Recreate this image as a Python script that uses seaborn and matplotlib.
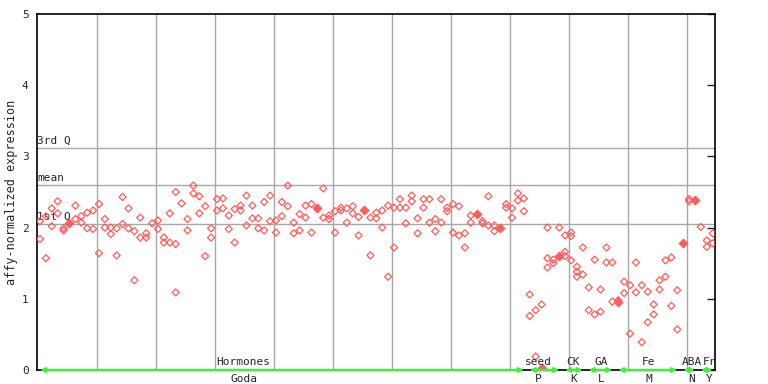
import numpy as np
import pandas as pd
import matplotlib
matplotlib.use("Agg")
import matplotlib.pyplot as plt
import seaborn as sns

# replicate values per sample, grouped by experiment
hormones = [
    [2.09, 1.84], [1.57, 2.16], [2.27, 2.02], [2.37, 2.20], [1.99, 1.96],
    [], [2.31, 2.12], [2.16, 2.07], [2.21, 1.99], [2.24, 1.98],
    [2.33, 1.64], [2.12, 2.00], [2.00, 1.91], [1.99, 1.61], [2.43, 2.05],
    [2.27, 1.99], [1.95, 1.26], [2.14, 1.86], [1.92, 1.86], [2.06],
    [2.10, 1.98], [1.86, 1.79], [2.20, 1.79], [2.50, 1.77, 1.09], [2.34],
    [2.12, 1.96], [2.59, 2.48], [2.44, 2.20], [2.30, 1.60], [1.99, 1.86],
    [2.40, 2.24], [2.41, 2.27], [2.17, 1.98], [2.26, 1.79], [2.31, 2.24],
    [2.45, 2.03], [2.31, 2.13], [2.13, 1.99], [2.36, 1.96], [2.45, 2.09],
    [2.10, 1.93], [2.36, 2.16], [2.59, 2.30], [2.07, 1.92], [2.19, 1.96],
    [2.31, 2.14], [2.33, 1.93], [], [2.55, 2.14], [2.17, 2.12],
    [2.23, 1.93], [2.28, 2.24], [2.27, 2.07], [2.30, 2.20], [2.15, 1.89],
    [], [2.14, 1.61], [2.21, 2.13], [2.24, 2.00], [2.31, 1.31],
    [2.28, 1.72], [2.40, 2.28], [2.28, 2.06], [2.45, 2.37], [2.13, 1.92],
    [2.40, 2.28], [2.40, 2.07], [2.12, 1.95], [2.40, 2.07], [2.28, 2.23],
    [2.33, 1.93], [2.30, 1.89], [1.92, 1.72], [2.17, 2.07], [],
    [2.09, 2.06], [2.44, 2.03], [2.03, 1.95], [], [2.33, 2.28],
    [2.14, 2.27], [2.48, 2.38], [2.41, 2.23],
]
seed = [[1.06, 0.76], [0.84, 0.19], [0.92], [2.00, 1.57, 1.44], [1.55, 1.50], [2.00]]
ck = [[1.89, 1.66, 1.60], [1.93, 1.88, 1.54], [1.45, 1.38, 1.31], [1.72, 1.34]]
ga = [[1.16, 0.84], [1.55, 0.78], [1.13, 0.82], [1.72, 1.51], [1.51, 0.96]]
fe = [[0.98], [1.24, 1.08], [1.19, 0.51], [1.51, 1.09], [1.19, 0.39], [1.10, 0.67],
      [0.92, 0.78], [1.26, 1.13], [1.54, 1.31], [1.58, 0.90], [1.12, 0.57]]
aba = [[], [2.40, 2.37], []]
fr = [[2.01], [1.82, 1.73], [1.92, 1.78]]

# samples drawn as filled markers
filled_idx = [5, 47, 55, 74, 78, 85, 88, 98, 109, 111]
filled_val = [2.07, 2.27, 2.25, 2.19, 1.99, 0.03, 1.60, 0.96, 1.78, 2.39]

group_names = ["Hormones", "seed", "CK", "GA", "Fe", "ABA", "Fr"]
group_codes = ["Goda", "P", "K", "L", "M", "N", "Y"]
group_label_x = [34.5, 84.4, 90.4, 95.2, 103.2, 110.5, 113.5]

q1, mean, q3 = 2.05, 2.60, 3.12

groups = [hormones, seed, ck, ga, fe, aba, fr]
rows = []
i = 0
spans = []
for g in groups:
    start = i
    for reps in g:
        for v in reps:
            rows.append((i, v))
        i += 1
    spans.append((start, i - 1))
df = pd.DataFrame(rows, columns=["sample", "expr"])
df_f = pd.DataFrame({"sample": filled_idx, "expr": filled_val})

sns.set_style("white")
plt.rcParams["font.family"] = ["DejaVu Sans Mono"]
fig = plt.figure(figsize=(7.68, 3.84), dpi=100)
ax = fig.add_axes([37 / 768, 14 / 384, 678 / 768, 356 / 384])

red = "#ff5c5c"
grid_c = "#a8a8a8"
for gx in np.arange(10, 111, 10) - 0.34:
    ax.axvline(gx, color=grid_c, lw=1, zorder=0)
for yv in (q1, mean, q3):
    ax.axhline(yv, color=grid_c, lw=1, zorder=0)
ax.text(-0.45, q3 + 0.03, "3rd Q", fontsize=8, va="bottom", ha="left")
ax.text(-0.45, mean + 0.03, "mean", fontsize=8, va="bottom", ha="left")
ax.text(-0.45, q1 + 0.03, "1st Q", fontsize=8, va="bottom", ha="left")

sns.scatterplot(data=df, x="sample", y="expr", ax=ax, marker="D", s=13,
                facecolor="none", edgecolor=red, linewidth=0.9, zorder=3)
sns.scatterplot(data=df_f, x="sample", y="expr", ax=ax, marker="D", s=22,
                color=red, edgecolor=red, linewidth=0.5, zorder=3)

green = "#3ff03f"
for (a, b), name, code, lx in zip(spans, group_names, group_codes, group_label_x):
    ax.annotate("", xy=(b, 0), xytext=(a, 0),
                arrowprops=dict(arrowstyle="<|-|>", color=green, lw=1.8,
                                mutation_scale=6, shrinkA=0, shrinkB=0),
                annotation_clip=False, zorder=5)
    ax.text(lx, 0.04, name, fontsize=8, ha="center", va="bottom", zorder=6)
    ax.text(lx, -0.06, code, fontsize=8, ha="center", va="top", clip_on=False)

ax.set_xlim(-0.5, 114.4)
ax.set_ylim(0, 5)
ax.set_xticks([])
ax.set_yticks(range(6))
ax.tick_params(axis="y", direction="in", length=6, right=True, labelsize=8,
               width=1, pad=6)
ax.set_xlabel("")
ax.set_ylabel("affy-normalized expression", fontsize=8.5, labelpad=3)
for s in ax.spines.values():
    s.set_color("black")
    s.set_linewidth(1.2)

fig.savefig("out.png", dpi=100)
